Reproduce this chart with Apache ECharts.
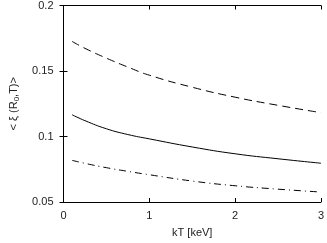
<!DOCTYPE html>
<html><head><meta charset="utf-8">
<script src="https://cdn.jsdelivr.net/npm/echarts@6/dist/echarts.min.js"></script>
<style>html,body{margin:0;padding:0;background:#fff}#c{width:327px;height:243px}</style>
</head><body><div id="c"></div>
<script>
var kT = [0.1, 0.25, 0.5, 0.75, 1, 1.5, 2, 2.5, 3];
var dashedVals = [0.1726, 0.1673, 0.1598, 0.1530, 0.1468, 0.1376, 0.1300, 0.1238, 0.1182];
var solidVals = [0.1166, 0.1121, 0.1059, 0.1015, 0.0982, 0.0920, 0.0868, 0.0830, 0.0796];
var dashDotVals = [0.0818, 0.0795, 0.0762, 0.0734, 0.0708, 0.0660, 0.0624, 0.0598, 0.0576];
var xTicks = [0, 1, 2, 3];
var yTicks = [0.05, 0.1, 0.15, 0.2];

function pairs(xs, ys){ return xs.map(function(x,i){ return [x, ys[i]]; }); }
var font = 'Liberation Sans';
var chart = echarts.init(document.getElementById('c'), null, {renderer:'canvas'});
var axLine = {show:true, lineStyle:{color:'#000', width:1}};
chart.setOption({
  animation:false,
  grid:{left:55, right:3, top:2, bottom:37, containLabel:false},
  xAxis:[{
    type:'value', min:0, max:3, interval:1,
    name:'kT [keV]', nameLocation:'middle', nameGap:25,
    nameTextStyle:{fontFamily:font, fontSize:11, color:'#222'},
    axisLine:axLine, axisTick:{show:true, inside:true, length:4, lineStyle:{color:'#000'}},
    axisLabel:{fontFamily:font, fontSize:11, color:'#222', margin:8, formatter:function(v){return xTicks.indexOf(v)>=0?String(v):'';}},
    splitLine:{show:false}
  },{
    type:'value', position:'top', min:0, max:3, interval:1,
    axisLine:axLine, axisTick:{show:true, inside:true, length:4, lineStyle:{color:'#000'}},
    axisLabel:{show:false}, splitLine:{show:false}
  }],
  yAxis:[{
    type:'value', min:0.05, max:0.2, interval:0.05,
    name:'< \u03be (R{s|0},T)>', nameLocation:'middle', nameGap:43, nameRotate:90,
    nameTextStyle:{fontFamily:font, fontSize:11, color:'#222', rich:{s:{fontFamily:font, fontSize:8, color:'#222', verticalAlign:'bottom', padding:[6,0,0,0]}}},
    axisLine:axLine, axisTick:{show:true, inside:true, length:4, lineStyle:{color:'#000'}},
    axisLabel:{fontFamily:font, fontSize:11, color:'#222', margin:10, formatter:function(v){
      var r = Math.round(v*100)/100; return String(r);}},
    splitLine:{show:false}
  },{
    type:'value', position:'right', min:0.05, max:0.2, interval:0.05,
    axisLine:axLine, axisTick:{show:true, inside:true, length:4, lineStyle:{color:'#000'}},
    axisLabel:{show:false}, splitLine:{show:false}
  }],
  series:[
    {type:'line', data:pairs(kT, dashedVals), smooth:true, symbol:'none', lineStyle:{color:'#000', width:1, type:[8,5]}},
    {type:'line', data:pairs(kT, solidVals), smooth:true, symbol:'none', lineStyle:{color:'#000', width:1, type:'solid'}},
    {type:'line', data:pairs(kT, dashDotVals), smooth:true, symbol:'none', lineStyle:{color:'#000', width:1, type:[7,4,1,4]}}
  ]
});
</script></body></html>
